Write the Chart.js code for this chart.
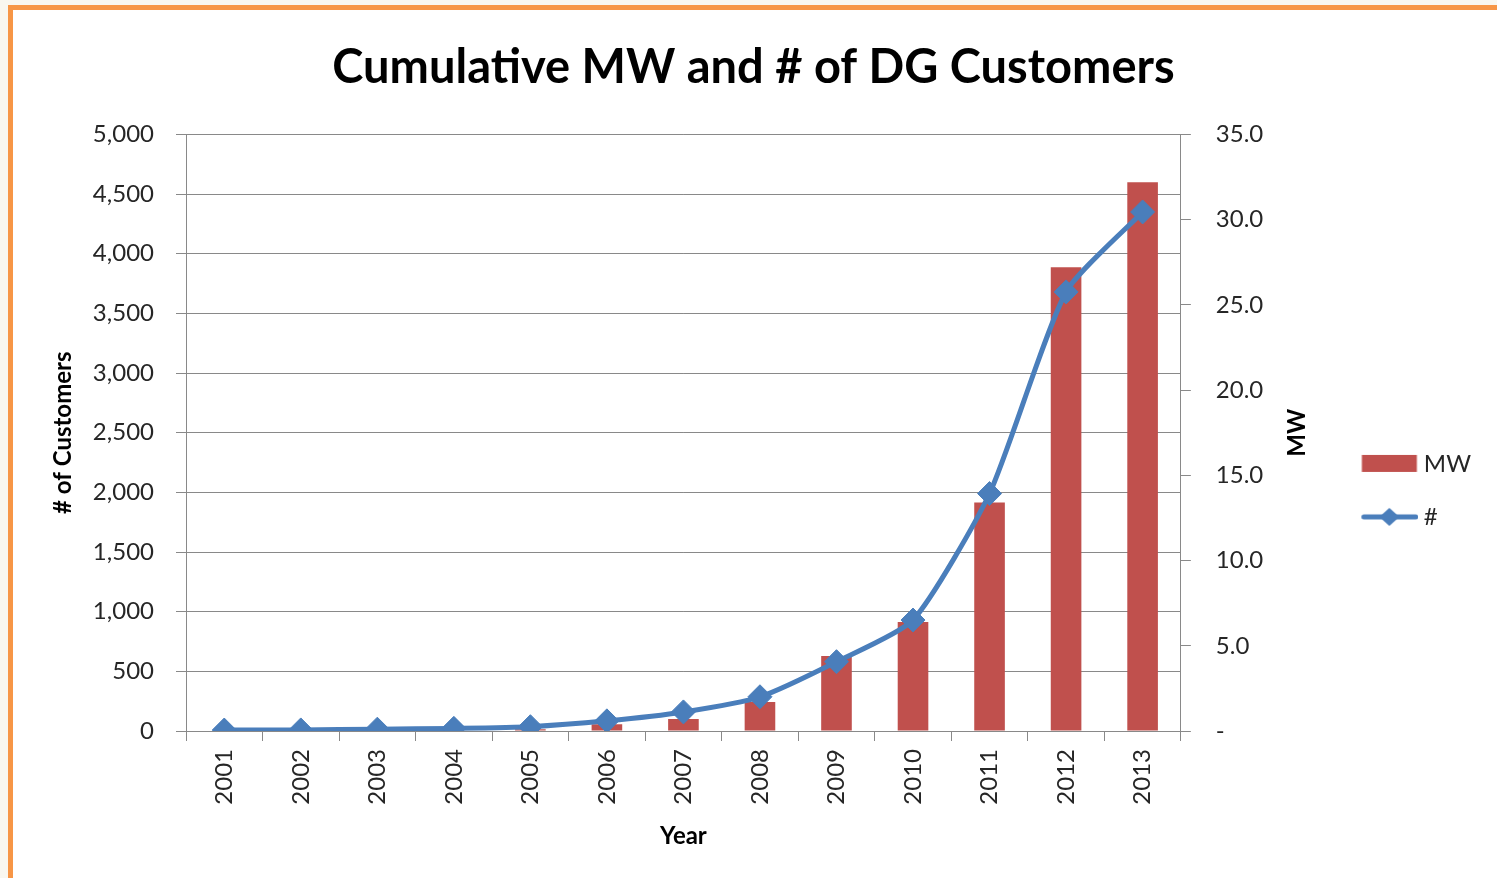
<!DOCTYPE html>
<html>
<head>
<meta charset="utf-8">
<script src="https://cdn.jsdelivr.net/npm/chart.js@4.4.1/dist/chart.umd.min.js"></script>
<style>
  html, body { margin: 0; padding: 0; overflow: hidden; background: #f9f7ef; }
  #marco { position: absolute; left: 8px; top: 5px; right: 0; bottom: 0; background: #fff;
           border-left: 5px solid #f79646; border-top: 5px solid #f79646; }
  #contenedor { position: absolute; left: 0; top: 0; width: 1497px; height: 878px; }
</style>
</head>
<body>
<div id="marco"></div>
<div id="contenedor"><canvas id="grafica" width="1497" height="878"></canvas></div>
<script>
// Datos
const anios = ["2001", "2002", "2003", "2004", "2005", "2006", "2007", "2008", "2009", "2010", "2011", "2012", "2013"];
const mw = [0, 0, 0, 0, 0.1, 0.4, 0.7, 1.7, 4.4, 6.4, 13.4, 27.2, 32.2];
const clientes = [8, 9, 15, 22, 36, 85, 160, 287, 581, 930, 1990, 3680, 4350];

const rojo = "#c0504d";
const azul = "#4a7ebb";
const gris = "#898989";
const texto = "#262626";

Chart.defaults.font.family = "Lato, 'Open Sans', sans-serif";
Chart.defaults.font.size = 24;
Chart.defaults.color = texto;

// Muestras de la leyenda
const muestra = (dibujar) => {
    const c = document.createElement("canvas");
    c.width = 64;
    c.height = 22;
    dibujar(c.getContext("2d"));
    return c;
};
const muestraMW = muestra(g => {
    g.fillStyle = rojo;
    g.fillRect(7.5, 2, 55, 17);
});
const muestraNum = muestra(g => {
    g.strokeStyle = azul;
    g.lineWidth = 5;
    g.lineCap = "round";
    g.beginPath();
    g.moveTo(9.5, 11);
    g.lineTo(61.5, 11);
    g.stroke();
    g.fillStyle = azul;
    g.beginPath();
    g.moveTo(35, 2);
    g.lineTo(45, 11);
    g.lineTo(35, 20);
    g.lineTo(25, 11);
    g.closePath();
    g.fill();
});

// Título del eje derecho, leído de abajo hacia arriba
const tituloMW = {
    id: "tituloMW",
    afterDraw(chart) {
        const s = chart.scales.y1;
        const g = chart.ctx;
        g.save();
        g.translate(s.right - 35, (s.top + s.bottom) / 2);
        g.rotate(-Math.PI / 2);
        g.font = "bold 24px Lato, 'Open Sans', sans-serif";
        g.fillStyle = "#000";
        g.textAlign = "center";
        g.textBaseline = "middle";
        g.fillText("MW", 0, 0);
        g.restore();
    }
};

new Chart(document.getElementById("grafica"), {
    data: {
        labels: anios,
        datasets: [{
            type: "bar",
            label: "MW",
            data: mw,
            yAxisID: "y1",
            backgroundColor: rojo,
            barPercentage: 0.4,
            categoryPercentage: 1,
            order: 2
        }, {
            type: "line",
            label: "#",
            data: clientes,
            yAxisID: "y",
            borderColor: azul,
            borderWidth: 5,
            tension: 0.2,
            pointStyle: "rectRot",
            pointRadius: 12,
            pointBorderWidth: 1,
            pointBackgroundColor: azul,
            pointBorderColor: azul,
            order: 1
        }]
    },
    options: {
        responsive: false,
        animation: false,
        layout: { padding: { left: 26, right: 16, top: 10, bottom: 0 } },
        plugins: {
            title: {
                display: true,
                text: "Cumulative MW and # of DG Customers",
                color: "#000",
                font: { size: 47, weight: "bold" },
                padding: { top: 30, bottom: 38 }
            },
            legend: {
                position: "right",
                title: { display: true, text: "", padding: { top: 32, bottom: 32 } },
                labels: {
                    usePointStyle: true,
                    pointStyleWidth: 51,
                    padding: 29,
                    color: texto,
                    generateLabels: (chart) => chart.data.datasets.map((ds, i) => ({
                        text: ds.label,
                        pointStyle: i === 0 ? muestraMW : muestraNum,
                        datasetIndex: i,
                        hidden: false,
                        fontColor: texto,
                        lineWidth: 0,
                        strokeStyle: "rgba(0,0,0,0)",
                        fillStyle: "rgba(0,0,0,0)"
                    }))
                }
            },
            tooltip: { enabled: false }
        },
        scales: {
            x: {
                grid: { drawOnChartArea: false, color: gris, tickLength: 10 },
                border: { color: gris },
                ticks: { minRotation: 90, maxRotation: 90, autoSkip: false, padding: 8 },
                title: {
                    display: true,
                    text: "Year",
                    color: "#000",
                    font: { size: 24, weight: "bold" },
                    padding: { top: 0, bottom: 27 }
                },
                afterFit: (s) => { s.height = 147; }
            },
            y: {
                position: "left",
                min: 0,
                max: 5000,
                ticks: { stepSize: 500, padding: 22, callback: (v) => v.toLocaleString("en-US") },
                grid: { color: gris, tickLength: 10 },
                border: { color: gris },
                title: {
                    display: true,
                    text: "# of Customers",
                    color: "#000",
                    font: { size: 24, weight: "bold" },
                    padding: { top: 23, bottom: 0 }
                },
                afterFit: (s) => { s.width = 160; }
            },
            y1: {
                position: "right",
                min: 0,
                max: 35,
                ticks: { stepSize: 5, padding: 25, callback: (v) => v === 0 ? "-" : v.toFixed(1) },
                grid: { drawOnChartArea: false, color: gris, tickLength: 10 },
                border: { color: gris },
                afterFit: (s) => { s.width = 151; }
            }
        }
    },
    plugins: [tituloMW]
});
</script>
</body>
</html>
